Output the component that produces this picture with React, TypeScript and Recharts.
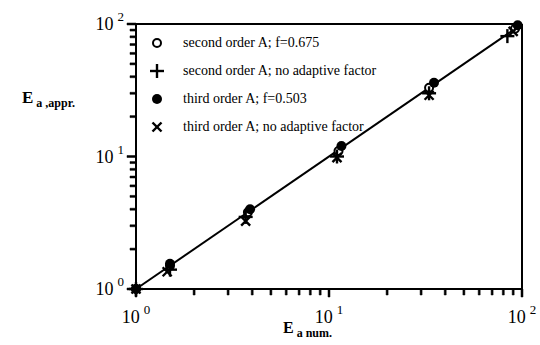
import { ScatterChart, Scatter, XAxis, YAxis, ReferenceLine } from 'recharts';

const secondOrderX = [1, 1.5, 3.8, 11.2, 33, 92];
const secondOrderY = [1, 1.5, 3.8, 11, 33, 92];
const secondNoFactorX = [1, 1.5, 3.7, 11, 33, 84];
const secondNoFactorY = [1, 1.4, 3.5, 10, 30, 81];
const thirdOrderX = [1, 1.5, 3.9, 11.6, 35, 95];
const thirdOrderY = [1, 1.55, 4.0, 12, 36, 98];
const thirdNoFactorX = [1, 1.45, 3.7, 11, 33, 90];
const thirdNoFactorY = [1, 1.35, 3.25, 9.8, 29, 88];

const logTicks = [1, 2, 3, 4, 5, 6, 7, 8, 9, 10, 20, 30, 40, 50, 60, 70, 80, 90, 100];
const majorTicks = [1, 10, 100];
const legendLabels = [
  'second order A; f=0.675',
  'second order A; no adaptive factor',
  'third order A; f=0.503',
  'third order A; no adaptive factor',
];

const toPoints = (xs: number[], ys: number[]) => xs.map((x, i) => ({ x, y: ys[i] }));

const serif = '"Liberation Serif", "DejaVu Serif", serif';

const OpenCircle = (p: any) => <circle cx={p.cx} cy={p.cy} r={4} fill="#fff" stroke="#000" strokeWidth={2} />;
const Plus = (p: any) => (
  <g stroke="#000" strokeWidth={2.4}>
    <line x1={p.cx - 7} y1={p.cy} x2={p.cx + 7} y2={p.cy} />
    <line x1={p.cx} y1={p.cy - 7} x2={p.cx} y2={p.cy + 7} />
  </g>
);
const Dot = (p: any) => <circle cx={p.cx} cy={p.cy} r={5} fill="#000" />;
const Cross = (p: any) => (
  <g stroke="#000" strokeWidth={2.4}>
    <line x1={p.cx - 4.5} y1={p.cy - 4.5} x2={p.cx + 4.5} y2={p.cy + 4.5} />
    <line x1={p.cx - 4.5} y1={p.cy + 4.5} x2={p.cx + 4.5} y2={p.cy - 4.5} />
  </g>
);
const shapes = [OpenCircle, Plus, Dot, Cross];

const plotBottom = 289;
const plotLeft = 136;

// tick marks drawn with the labels, pointing out of the plot box
const XTick = ({ x, payload }: any) => {
  const major = majorTicks.includes(payload.value);
  const exp = Math.round(Math.log10(payload.value));
  return (
    <g>
      <path d={`M${x - 1},${plotBottom}h2v${major ? 8 : 6}h-2z`} fill="#000" stroke="#000" strokeWidth={0.5} />
      {major && (
        <text x={x} y={plotBottom + 34} textAnchor="middle" fontFamily={serif} fontSize={18} fill="#000">
          10<tspan dx={4} dy={-9} fontSize={13}>{exp}</tspan>
        </text>
      )}
    </g>
  );
};

const YTick = ({ y, payload }: any) => {
  const major = majorTicks.includes(payload.value);
  const exp = Math.round(Math.log10(payload.value));
  const len = major ? 9 : 6;
  return (
    <g>
      <path d={`M${plotLeft},${y - 1}v2h${-len}v-2z`} fill="#000" stroke="#000" strokeWidth={0.5} />
      {major && (
        <text x={plotLeft - 12} y={y + 6} textAnchor="end" fontFamily={serif} fontSize={18} fill="#000">
          10<tspan dx={4} dy={-9} fontSize={13}>{exp}</tspan>
        </text>
      )}
    </g>
  );
};

const series = [
  toPoints(secondOrderX, secondOrderY),
  toPoints(secondNoFactorX, secondNoFactorY),
  toPoints(thirdOrderX, thirdOrderY),
  toPoints(thirdNoFactorX, thirdNoFactorY),
];

export default function App() {
  return (
    <div style={{ position: 'absolute', left: 0, top: 0, width: 540, height: 345, background: '#fff' }}>
      <ScatterChart width={540} height={345} margin={{ top: 24, right: 18, bottom: 26, left: 96 }}>
        <XAxis
          dataKey="x" type="number" scale="log" domain={[1, 100]}
          ticks={logTicks} interval={0} height={30} minTickGap={0}
          axisLine={{ stroke: '#000', strokeWidth: 2 }} tickLine={false} tick={<XTick />}
        />
        <YAxis
          dataKey="y" type="number" scale="log" domain={[1, 100]}
          ticks={logTicks} interval={0} width={40} minTickGap={0}
          axisLine={{ stroke: '#000', strokeWidth: 2 }} tickLine={false} tick={<YTick />}
        />
        <ReferenceLine y={100} stroke="#000" strokeWidth={2} />
        <ReferenceLine x={100} stroke="#000" strokeWidth={2} />
        <ReferenceLine segment={[{ x: 1, y: 1 }, { x: 100, y: 100 }]} stroke="#000" strokeWidth={2} />
        {series.map((d, i) => (
          <Scatter key={i} data={d} shape={shapes[i]} isAnimationActive={false} />
        ))}
      </ScatterChart>
      <div style={{ position: 'absolute', left: 149, top: 29, fontFamily: serif, fontSize: 14 }}>
        {legendLabels.map((t, i) => {
          const Shape = shapes[i];
          return (
            <div key={t} style={{ display: 'flex', alignItems: 'center', height: 28 }}>
              <svg width={16} height={16} style={{ marginRight: 18 }}>
                <Shape cx={8} cy={8} />
              </svg>
              <span>{t}</span>
            </div>
          );
        })}
      </div>
      <div style={{ position: 'absolute', left: 22, top: 88, fontFamily: serif, fontWeight: 'bold', fontSize: 17 }}>
        E<sub style={{ fontSize: 12, marginLeft: 3 }}>a ,appr.</sub>
      </div>
      <div style={{ position: 'absolute', left: 283, top: 319, fontFamily: serif, fontWeight: 'bold', fontSize: 16 }}>
        E<sub style={{ fontSize: 12, marginLeft: 3 }}>a num.</sub>
      </div>
    </div>
  );
}
